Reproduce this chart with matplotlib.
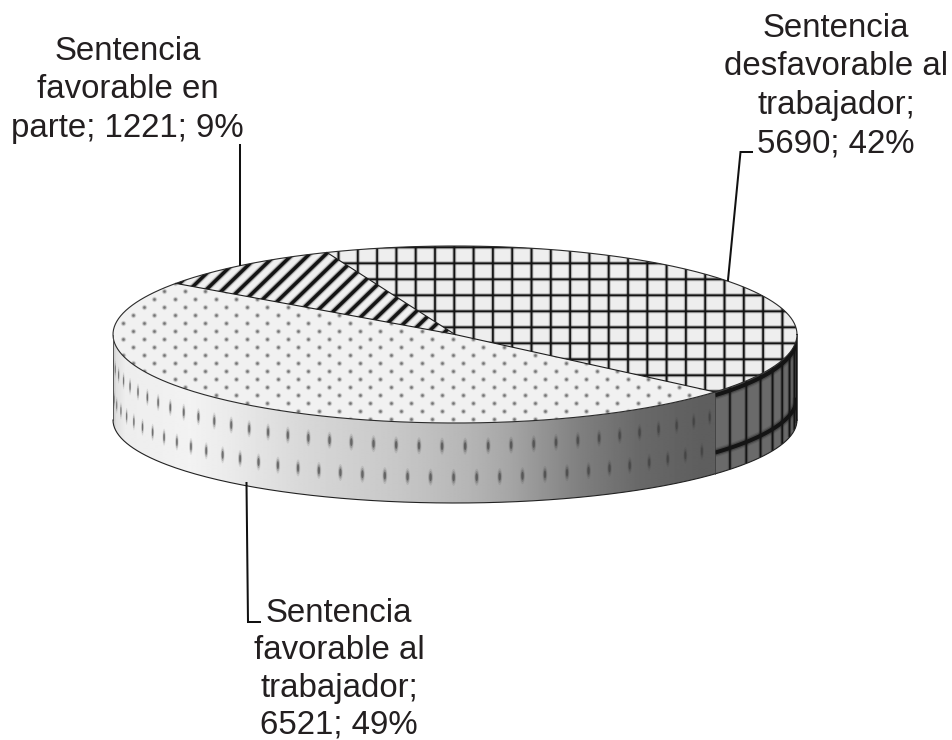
import numpy as np
import matplotlib
matplotlib.use("Agg")
import matplotlib.pyplot as plt
from matplotlib.collections import LineCollection
from matplotlib.patches import Ellipse, Polygon

categories = ["desfavorable", "favorable", "parte"]
values = [5690, 6521, 1221]
percents = [42, 49, 9]

label_lines = {
    "desfavorable": ["Sentencia", "desfavorable al", "trabajador;", f"{values[0]}; {percents[0]}%"],
    "favorable": ["Sentencia", "favorable al", "trabajador;", f"{values[1]}; {percents[1]}%"],
    "parte": ["Sentencia", "favorable en", f"parte; {values[2]}; {percents[2]}%"],
}
label_pos = {"desfavorable": (836, 37), "favorable": (339, 622), "parte": (127.5, 60)}
label_step = {"desfavorable": 38.4, "favorable": 37.3, "parte": 38.4}

# pie geometry, in pixels
cx, cy, rx, ry = 455, 334.5, 342, 88.5
bottom_cy, bottom_ry = 420, 83
start_angle = 112
text_color = "#231f20"

plt.rcParams["font.family"] = ["Liberation Sans", "DejaVu Sans"]


def top_xy(t):
    t = np.radians(t)
    return cx + rx * np.cos(t), cy - ry * np.sin(t)


def bottom_xy(t):
    t = np.radians(t)
    return cx + rx * np.cos(t), bottom_cy - bottom_ry * np.sin(t)


def wall_xy(t, frac):
    x, y0 = top_xy(t)
    _, y1 = bottom_xy(t)
    return x, y0 + (y1 - y0) * frac


def soft_lines(ax, segs, clip, width, color="#141414", halo=2.0):
    # fake the blurry pattern edges of the original with a wider faint line below
    for lw, alpha in ((width + 2 * halo, 0.12), (width + halo, 0.28), (width, 1.0)):
        lc = LineCollection(segs, colors=color, linewidths=lw * 0.72, alpha=alpha, zorder=3, capstyle="butt")
        lc.set_antialiased(True)
        lc.set_snap(False)
        ax.add_collection(lc)
        lc.set_clip_path(clip)


fig = plt.figure(figsize=(9.52, 7.40), dpi=100)
ax = fig.add_axes([0, 0, 1, 1])
ax.set_xlim(0, 952)
ax.set_ylim(740, 0)
ax.axis("off")

# slice limits from the values, going clockwise
sweeps = np.array(values) / sum(values) * 360
desf_a, desf_b = start_angle, start_angle - sweeps[0]
fav_a, fav_b = desf_b, desf_b - sweeps[1]
par_a, par_b = fav_b, fav_b - sweeps[2]


def face(a, b, **kw):
    t = np.linspace(a, b, 120)
    x, y = top_xy(t)
    pts = np.column_stack([np.r_[cx, x], np.r_[cy, y]])
    p = Polygon(pts, closed=True, zorder=2, **kw)
    ax.add_patch(p)
    return p


def wall(a, b, **kw):
    t = np.linspace(a, b, 120)
    x0, y0 = top_xy(t)
    x1, y1 = bottom_xy(t[::-1])
    pts = np.column_stack([np.r_[x0, x1], np.r_[y0, y1]])
    p = Polygon(pts, closed=True, zorder=1, **kw)
    ax.add_patch(p)
    return p


# side wall, front part with a grey gradient
wall_fav = wall(-180, desf_b, facecolor="none", edgecolor="none")
grad_x = [113, 116, 125, 190, 230, 300, 400, 470, 510, 580, 640, 700, 720]
grad_v = [0.78, 0.88, 0.93, 0.95, 0.92, 0.85, 0.78, 0.71, 0.65, 0.50, 0.41, 0.37, 0.37]
xs = np.arange(113, 721)
im = ax.imshow(np.interp(xs, grad_x, grad_v)[None, :], cmap="gray", vmin=0, vmax=1,
               extent=(113, 720, 510, 330), aspect="auto", zorder=1, interpolation="bilinear")
im.set_clip_path(wall_fav)
ax.set_xlim(0, 952)
ax.set_ylim(740, 0)

# dots on the wall, both rows staggered
step = 3.87
for frac, first in ((0.29, -88.3), (0.68, -90.23)):
    k = np.arange(-24, 24)
    angles = first + k * step
    for t in angles[(angles < desf_b - 0.5) & (angles > -179)]:
        x, y = wall_xy(t, frac)
        w = 2.4 * abs(np.sin(np.radians(t))) + 0.6
        for scale, alpha in ((1.7, 0.12), (1.25, 0.25), (0.8, 0.55)):
            e = Ellipse((x, y), w * scale, 10 * scale, facecolor="#3a3a3a", edgecolor="none",
                        alpha=alpha, zorder=1.5)
            ax.add_patch(e)
            e.set_clip_path(wall_fav)

# side wall of the dark slice, with the grid bent around it
wall_desf = wall(desf_b, 0, facecolor="#6a6a6a", edgecolor="none")
segs = []
for t in np.arange(-36.5, 0, 4.9):
    x0, y0 = wall_xy(t, 0)
    x1, y1 = wall_xy(t, 1)
    segs.append([(x0, y0), (x1, y1)])
soft_lines(ax, segs, wall_desf, 1.6, halo=1.4)
t = np.linspace(desf_b, 0, 60)
band_top = np.column_stack(wall_xy(t, 0.04))
band_mid = np.column_stack(wall_xy(t, 0.74))
soft_lines(ax, [band_top, band_mid], wall_desf, 4.0, halo=2.5)

# top face
desf = face(desf_a, desf_b, facecolor="#eeeeee", edgecolor="none")
fav = face(fav_a, fav_b, facecolor="#f1f1f1", edgecolor="none")
par = face(par_a, par_b, facecolor="#f0f0f0", edgecolor="none")

# crossed grid
segs = [[(x, 240), (x, 430)] for x in np.arange(319.2, 800, 19.3)]
segs += [[(320, y), (800, y)] for y in np.arange(247.3, 430, 16)]
soft_lines(ax, segs, desf, 1.7, halo=1.4)

# diagonal stripes
dx = 16.6
segs = [[(x, 340), (x + 100 / 0.97, 240)] for x in np.arange(88, 460, dx)]
soft_lines(ax, segs, par, 3.4, halo=1.6)

# dots on the big slice
rows = np.arange(426.7, 270, -8.0)
dot_x, dot_y = [], []
for i, y in enumerate(rows):
    off = 133.3 if i % 2 == 0 else 123.0
    for x in np.arange(off, 760, 20.6):
        dot_x.append(x)
        dot_y.append(y)
for d, alpha in ((5.5, 0.13), (4.0, 0.28), (2.4, 0.6)):
    sc = ax.scatter(dot_x, dot_y, s=(0.72 * d) ** 2, c="#4a4a4a", alpha=alpha, linewidths=0, zorder=3)
    sc.set_clip_path(fav)

# outlines
t = np.linspace(0, 360, 400)
ax.plot(*top_xy(t), color="#2a2a2a", lw=0.8, zorder=4)
t = np.linspace(-180, 0, 200)
ax.plot(*bottom_xy(t), color="#222222", lw=0.8, zorder=4)
ax.plot([cx - rx, cx - rx], [cy, bottom_cy], color="#444444", lw=0.6, zorder=4)
ax.plot([cx + rx, cx + rx], [cy, bottom_cy], color="#333333", lw=0.6, zorder=4)
for a in (desf_a, desf_b, fav_b):
    x, y = top_xy(a)
    ax.plot([cx, x], [cy, y], color="#1e1e1e", lw=0.8, zorder=4)
x, y0 = top_xy(desf_b)
_, y1 = bottom_xy(desf_b)
ax.plot([x, x], [y0, y1], color="#333333", lw=0.5, zorder=4)

# leader lines
leader = dict(color="#111111", lw=1.45, zorder=5, solid_joinstyle="miter")
ax.plot([240, 240], [145, 265], **leader)
ax.plot([728, 740.5, 752], [280, 152, 152], **leader)
ax.plot([246.5, 248, 260], [483, 622, 622], **leader)

for name in categories:
    x, y = label_pos[name]
    for i, line in enumerate(label_lines[name]):
        ax.text(x, y + i * label_step[name], line, ha="center", va="baseline", fontsize=23.8,
                color=text_color, zorder=6)

fig.savefig("out.png", dpi=100, facecolor="white")
